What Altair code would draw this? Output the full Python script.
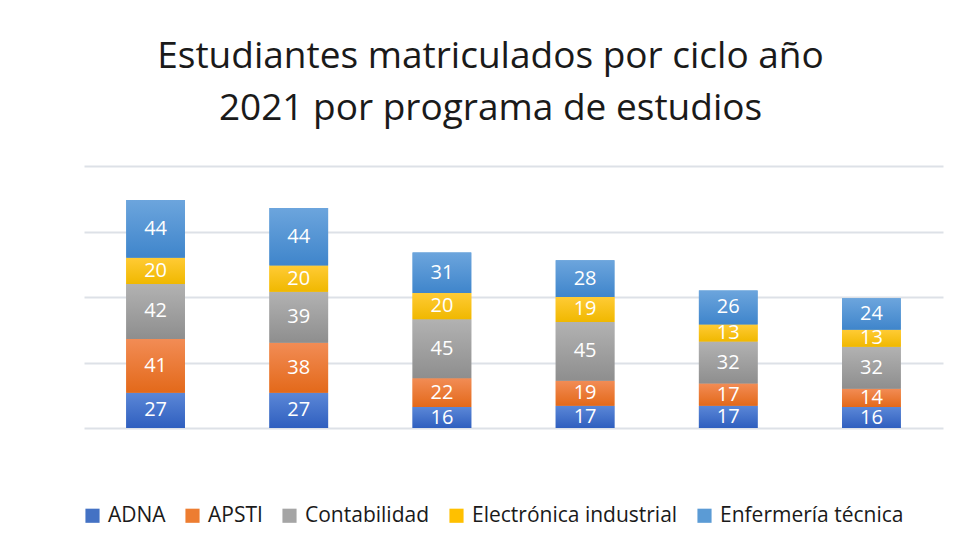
import altair as alt
import pandas as pd

ciclos = ["Ciclo I", "Ciclo II", "Ciclo III", "Ciclo IV", "Ciclo V", "Ciclo VI"]
programas = ["ADNA", "APSTI", "Contabilidad", "Electrónica industrial", "Enfermería técnica"]
adna = [27, 27, 16, 17, 17, 16]
apsti = [41, 38, 22, 19, 17, 14]
contabilidad = [42, 39, 45, 45, 32, 32]
electronica = [20, 20, 20, 19, 13, 13]
enfermeria = [44, 44, 31, 28, 26, 24]
series = [adna, apsti, contabilidad, electronica, enfermeria]

colores = ["#4472C4", "#ED7D31", "#A5A5A5", "#FFC000", "#5B9BD5"]
grad_top = ["#5B87D7", "#F28C55", "#B2B2B2", "#FFCB35", "#6CA5DD"]
grad_bottom = ["#2F5FBF", "#E3691A", "#8E8E8E", "#F0B800", "#3F85CB"]

rows = []
for i, p in enumerate(programas):
    for c, v in zip(ciclos, series[i]):
        rows.append({"ciclo": c, "programa": p, "orden": i, "valor": v})
df = pd.DataFrame(rows)

FONT = "Open Sans"

x = alt.X("ciclo:N", sort=ciclos, axis=None,
          scale=alt.Scale(paddingInner=0.59, paddingOuter=0.295))
y = alt.Y("y0:Q", title=None,
          scale=alt.Scale(domain=[0, 200], nice=False),
          axis=alt.Axis(values=[0, 50, 100, 150, 200], labels=False, ticks=False,
                        domain=False, grid=True, gridColor="#DDE1E7", gridWidth=2))

base = alt.Chart(df).transform_stack(
    stack="valor", groupby=["ciclo"], as_=["y0", "y1"],
    sort=[alt.SortField("orden", order="ascending")]
).transform_calculate(mid="(datum.y0 + datum.y1) / 2")

legend_bars = base.mark_bar().encode(
    x=x, y=y, y2="y1:Q",
    color=alt.Color("programa:N", sort=programas,
                    scale=alt.Scale(domain=programas, range=colores),
                    legend=alt.Legend(title=None, orient="none", direction="horizontal",
                                      legendX=-2, legendY=339,
                                      symbolType="square", symbolSize=200,
                                      symbolStrokeWidth=0, symbolOpacity=1,
                                      labelFont=FONT, labelFontSize=21,
                                      labelColor="#1a1a1a", labelOffset=5,
                                      columnPadding=16, labelLimit=400))
)

layers = [legend_bars]
for i, p in enumerate(programas):
    grad = {"gradient": "linear", "x1": 0, "x2": 0, "y1": 0, "y2": 1,
            "stops": [{"offset": 0, "color": grad_top[i]},
                      {"offset": 1, "color": grad_bottom[i]}]}
    layers.append(
        base.transform_filter(alt.datum.programa == p)
        .mark_bar(color=grad)
        .encode(x=x, y=y, y2="y1:Q")
    )

labels = base.mark_text(color="white", font=FONT, fontSize=20, baseline="middle").encode(
    x=x, y=alt.Y("mid:Q"), text="valor:Q"
)
layers.append(labels)

chart = alt.layer(*layers).properties(
    width=859, height=262,
    autosize=alt.AutoSizeParams(type="none"),
    padding={"left": 76, "top": 158, "right": 7, "bottom": 110},
    title=alt.TitleParams(
        text=["Estudiantes matriculados por ciclo año", "2021 por programa de estudios"],
        font=FONT, fontSize=37, fontWeight="normal", color="#1a1a1a",
        anchor="middle", dx=-23, lineHeight=52, offset=1, baseline="bottom"
    )
).configure_view(stroke=None)

chart.save("out.html", embed_options={"renderer": "svg", "actions": False})
